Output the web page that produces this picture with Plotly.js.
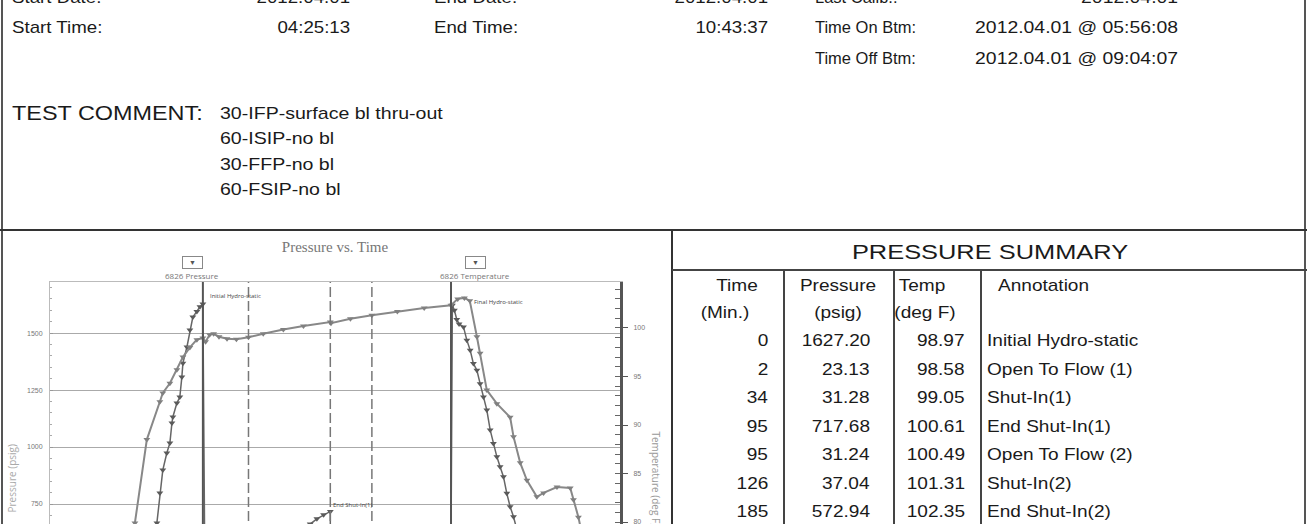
<!DOCTYPE html>
<html><head><meta charset="utf-8">
<script src="https://cdn.plot.ly/plotly-3.0.1.min.js"></script>
<style>
html,body{margin:0;padding:0;width:1307px;height:524px;overflow:hidden;background:#fff;}
#page{position:relative;width:1307px;height:524px;overflow:hidden;font-family:"Liberation Sans",Arial,sans-serif;color:#1a1a1a;}
.t{position:absolute;white-space:nowrap;line-height:1;}
.ln{position:absolute;background:#3a3a3a;}
#chart{position:absolute;left:0;top:232px;width:672px;height:503px;}
</style></head><body><div id="page"><div id="chart"></div></div>
<script>
// ---------- document header ----------
const infoLeftLabels  = ['Start Date:', 'Start Time:'];
const infoLeftValues  = ['2012.04.01', '04:25:13'];
const infoMidLabels   = ['End Date:', 'End Time:'];
const infoMidValues   = ['2012.04.01', '10:43:37'];
const infoRightLabels = ['Last Calib.:', 'Time On Btm:', 'Time Off Btm:'];
const infoRightValues = ['2012.04.01', '2012.04.01 @ 05:56:08', '2012.04.01 @ 09:04:07'];
const commentLabel = 'TEST COMMENT:';
const commentLines = ['30-IFP-surface bl thru-out', '60-ISIP-no bl', '30-FFP-no bl', '60-FSIP-no bl'];

// ---------- pressure summary table ----------
const summaryTitle = 'PRESSURE SUMMARY';
const sumHeads1 = ['Time', 'Pressure', 'Temp', 'Annotation'];
const sumHeads2 = ['(Min.)', '(psig)', '(deg F)'];
const sumTime     = ['0', '2', '34', '95', '95', '126', '185'];
const sumPressure = ['1627.20', '23.13', '31.28', '717.68', '31.24', '37.04', '572.94'];
const sumTemp     = ['98.97', '98.58', '99.05', '100.61', '100.49', '101.31', '102.35'];
const sumAnnot    = ['Initial Hydro-static', 'Open To Flow (1)', 'Shut-In(1)', 'End Shut-In(1)', 'Open To Flow (2)', 'Shut-In(2)', 'End Shut-In(2)'];

// ---------- chart series (x = minutes after Time On Btm 05:56:08) ----------
const pMin  = [-34.3,-32.1,-29.9,-26.9,-24.6,-23.1,-22.4,-19.4,-17.2,-15.7,-14.9,-11.9,-9.7,-7.5,-4.5,-2.2,0,
               2,34,50,65,80,85,90,95,95,126,185,
               186,187.5,189.3,191,194.3,196.8,199.3,201.7,204.3,206.7,209.2,211.7,214.2,216.6,219.2,221.6,224.1,226.6,229.1,231.6,234];
const pPsig = [667,798,899,974,1018,1105,1132,1193,1219,1307,1368,1439,1513,1570,1595,1615,1627.2,
               23.13,31.28,300,520,662,685,703,717.68,31.24,37.04,572.94,
               1622,1600,1560,1540,1527,1469,1425,1366,1337,1278,1220,1162,1075,1016,957,914,870,797,738,694,640];
const tMin  = [-50.7,-41.8,-32.1,-29.9,-24.6,-19.4,-14.9,-9.7,-4.5,0,2,5,8,12,18,25,34,45,60,75,95,95.5,110,126,145,165,185,
               190,195,199,204.3,206.7,211.7,219.2,229.1,231.6,236.6,241.6,249,254,264,273.9,276.3,280,283];
const tDegF = [79.9,88.5,92.4,93.3,94.3,95.7,97.0,98.0,98.8,98.97,98.58,99.3,99.4,99.1,98.9,98.85,99.05,99.4,99.85,100.2,100.61,100.49,100.95,101.31,101.7,102.05,102.35,
               103.0,103.1,102.8,99.1,97.4,93.6,92.2,90.8,88.8,86.1,84.3,82.6,83.0,83.6,83.5,82.3,80.5,78.5];
const eventMin = [0, 34, 95, 126, 185];
const labelMin = [0, 95, 186];
const labelPsig = [1627.2, 717.68, 1622];
const labelText = ['Initial Hydro-static', 'End Shut-In(1)', 'Final Hydro-static'];
const seriesNames = ['6826 Pressure', '6826 Temperature'];
const chartTitle = 'Pressure vs. Time';
const yTitle = 'Pressure (psig)';
const y2Title = 'Temperature (deg F)';

// ---------- helpers ----------
const W = 1307;
const page = document.getElementById('page');
function txt(s, x, y, anchor, size, sx) {
  const d = document.createElement('div');
  d.className = 't'; d.textContent = s; d.style.fontSize = size + 'px'; d.style.top = y + 'px';
  if (anchor === 'l') { d.style.left = x + 'px'; d.style.transformOrigin = '0 50%'; d.style.transform = 'translateY(-50%) scaleX(' + sx + ')'; }
  else if (anchor === 'r') { d.style.right = (W - x) + 'px'; d.style.transformOrigin = '100% 50%'; d.style.transform = 'translateY(-50%) scaleX(' + sx + ')'; }
  else { d.style.left = x + 'px'; d.style.transformOrigin = '50% 50%'; d.style.transform = 'translate(-50%,-50%) scaleX(' + sx + ')'; }
  page.appendChild(d);
}
function line(x, y, w, h, c) {
  const d = document.createElement('div'); d.className = 'ln';
  d.style.left = x + 'px'; d.style.top = y + 'px'; d.style.width = w + 'px'; d.style.height = h + 'px';
  if (c) d.style.background = c;
  page.appendChild(d);
}

// frame lines
line(1, 0, 2, 524, '#555');
line(1304, 0, 2, 524, '#555');
line(0, 229, W, 2, '#333');
line(671, 230, 2, 294, '#333');
line(672, 269, 635, 2, '#444');
[783, 893, 980].forEach(x => line(x, 270, 2, 254, '#444'));

// header info
const rowY = [-3, 27, 58];
const HS = 17, HX = 1.1;
infoLeftLabels.forEach((s, i) => txt(s, 12, rowY[i], 'l', HS, HX));
infoLeftValues.forEach((s, i) => txt(s, 350, rowY[i], 'r', HS, HX));
infoMidLabels.forEach((s, i) => txt(s, 434, rowY[i], 'l', HS, HX));
infoMidValues.forEach((s, i) => txt(s, 768, rowY[i], 'r', HS, HX));
infoRightLabels.forEach((s, i) => txt(s, 815, rowY[i], 'l', HS, 0.97));
infoRightValues.forEach((s, i) => txt(s, 1178, rowY[i], 'r', HS, 1.14));
txt(commentLabel, 12, 113, 'l', 20, 1.17);
commentLines.forEach((s, i) => txt(s, 220, 113 + i * 25.3, 'l', 17, 1.15));

// table
txt(summaryTitle, 990, 252, 'c', 20, 1.27);
const TS = 17, TX = 1.12;
txt(sumHeads1[0], 737, 285, 'c', TS, TX);
txt(sumHeads1[1], 838, 285, 'c', TS, TX);
txt(sumHeads1[2], 922, 285, 'c', TS, TX);
txt(sumHeads1[3], 998, 285, 'l', TS, TX);
txt(sumHeads2[0], 725, 312, 'c', TS, TX);
txt(sumHeads2[1], 838, 312, 'c', TS, TX);
txt(sumHeads2[2], 925, 312, 'c', TS, TX);
sumTime.forEach((s, i) => {
  const y = 340 + i * 28.5;
  txt(s, 768, y, 'r', TS, TX);
  txt(sumPressure[i], 870, y, 'r', TS, TX);
  txt(sumTemp[i], 965, y, 'r', TS, TX);
  txt(sumAnnot[i], 987, y, 'l', TS, TX);
});

// ---------- chart ----------
const small = {family: 'Liberation Sans, Arial, sans-serif', size: 7, color: '#777'};
const shapes = eventMin.map((t, i) => {
  const solid = (i === 0 || i === eventMin.length - 1);
  return {type: 'line', xref: 'x', yref: 'paper', x0: t, x1: t, y0: 0, y1: 1,
          line: {color: solid ? '#555' : '#777', width: solid ? 2 : 1.5, dash: solid ? 'solid' : '10px,4px'}};
});
const PL = 50, PR = 620, PT = 282, PB = 675;
const px = x => (x - PL) / (PR - PL), py = y => (PB - y) / (PB - PT);
const pa = {xref: 'paper', yref: 'paper', showarrow: false, xanchor: 'center', yanchor: 'middle'};
const annotations = [
  Object.assign({}, pa, {x: px(192), y: py(263), text: '▼', font: {size: 7, color: '#555'}, bordercolor: '#888', borderwidth: 1, borderpad: 1, width: 17}),
  Object.assign({}, pa, {x: px(192), y: py(276), text: seriesNames[0], font: {size: 8, color: '#777'}}),
  Object.assign({}, pa, {x: px(475), y: py(263), text: '▼', font: {size: 7, color: '#555'}, bordercolor: '#888', borderwidth: 1, borderpad: 1, width: 17}),
  Object.assign({}, pa, {x: px(475), y: py(276), text: seriesNames[1], font: {size: 8, color: '#777'}}),
  Object.assign({}, pa, {x: px(11), y: 0.5, text: yTitle, textangle: -90, font: {size: 10, color: '#aaa'}}),
  Object.assign({}, pa, {x: px(656), y: 0.5, text: y2Title, textangle: 90, font: {size: 10, color: '#999'}})
];
const shifts = [[5, 8], [1, 6], [20, 3]];
labelText.forEach((s, i) => annotations.push({
  x: labelMin[i], y: labelPsig[i], xref: 'x', yref: 'y', text: s, showarrow: false, xanchor: 'left',
  xshift: shifts[i][0], yshift: shifts[i][1], font: {size: 6, color: '#444'}
}));

const traces = [
  {x: pMin, y: pPsig, name: seriesNames[0], type: 'scatter', mode: 'lines+markers', yaxis: 'y',
   line: {color: '#666', width: 1.5}, marker: {symbol: 'triangle-down', size: 6, color: '#5a5a5a'}, cliponaxis: true},
  {x: tMin, y: tDegF, name: seriesNames[1], type: 'scatter', mode: 'lines+markers', yaxis: 'y2',
   line: {color: '#888', width: 2}, marker: {symbol: 'triangle-down', size: 6, color: '#808080'}, cliponaxis: true}
];
const layout = {
  width: 672, height: 503, margin: {l: PL, r: 672 - PR, t: PT - 232, b: 503 - (PB - 232)},
  paper_bgcolor: 'rgba(0,0,0,0)', plot_bgcolor: 'rgba(0,0,0,0)', showlegend: false,
  title: {text: chartTitle, font: {family: 'Liberation Serif, serif', size: 15, color: '#777'}, x: 335 / 672, xanchor: 'center', xref: 'container', y: 1 - 15 / 503, yanchor: 'middle', yref: 'container'},
  xaxis: {range: [-114, 311], showgrid: false, zeroline: false, showline: true, mirror: true, linecolor: '#bbb', linewidth: 1, ticks: '', showticklabels: false},
  yaxis: {range: [0, 1724], tick0: 0, dtick: 250, showgrid: true, gridcolor: '#aaa', gridwidth: 1, zeroline: false,
          showline: true, linecolor: '#bbb', ticks: 'inside', ticklen: 3, tickcolor: '#999', tickfont: small, ticklabelstandoff: 5,
          minor: {dtick: 50, ticks: 'inside', ticklen: 2, tickcolor: '#aaa', showgrid: false}},
  yaxis2: {overlaying: 'y', side: 'right', range: [64.23, 104.74], tick0: 0, dtick: 5, showgrid: false, zeroline: false,
           showline: true, linecolor: '#555', linewidth: 3, ticks: 'outside', ticklen: 5, tickcolor: '#555', tickfont: small, ticklabelstandoff: 4,
           minor: {dtick: 1, ticks: 'inside', ticklen: 5, tickcolor: '#666', showgrid: false}},
  shapes: shapes, annotations: annotations
};
Plotly.newPlot('chart', traces, layout, {staticPlot: true, displayModeBar: false});
</script></body></html>
